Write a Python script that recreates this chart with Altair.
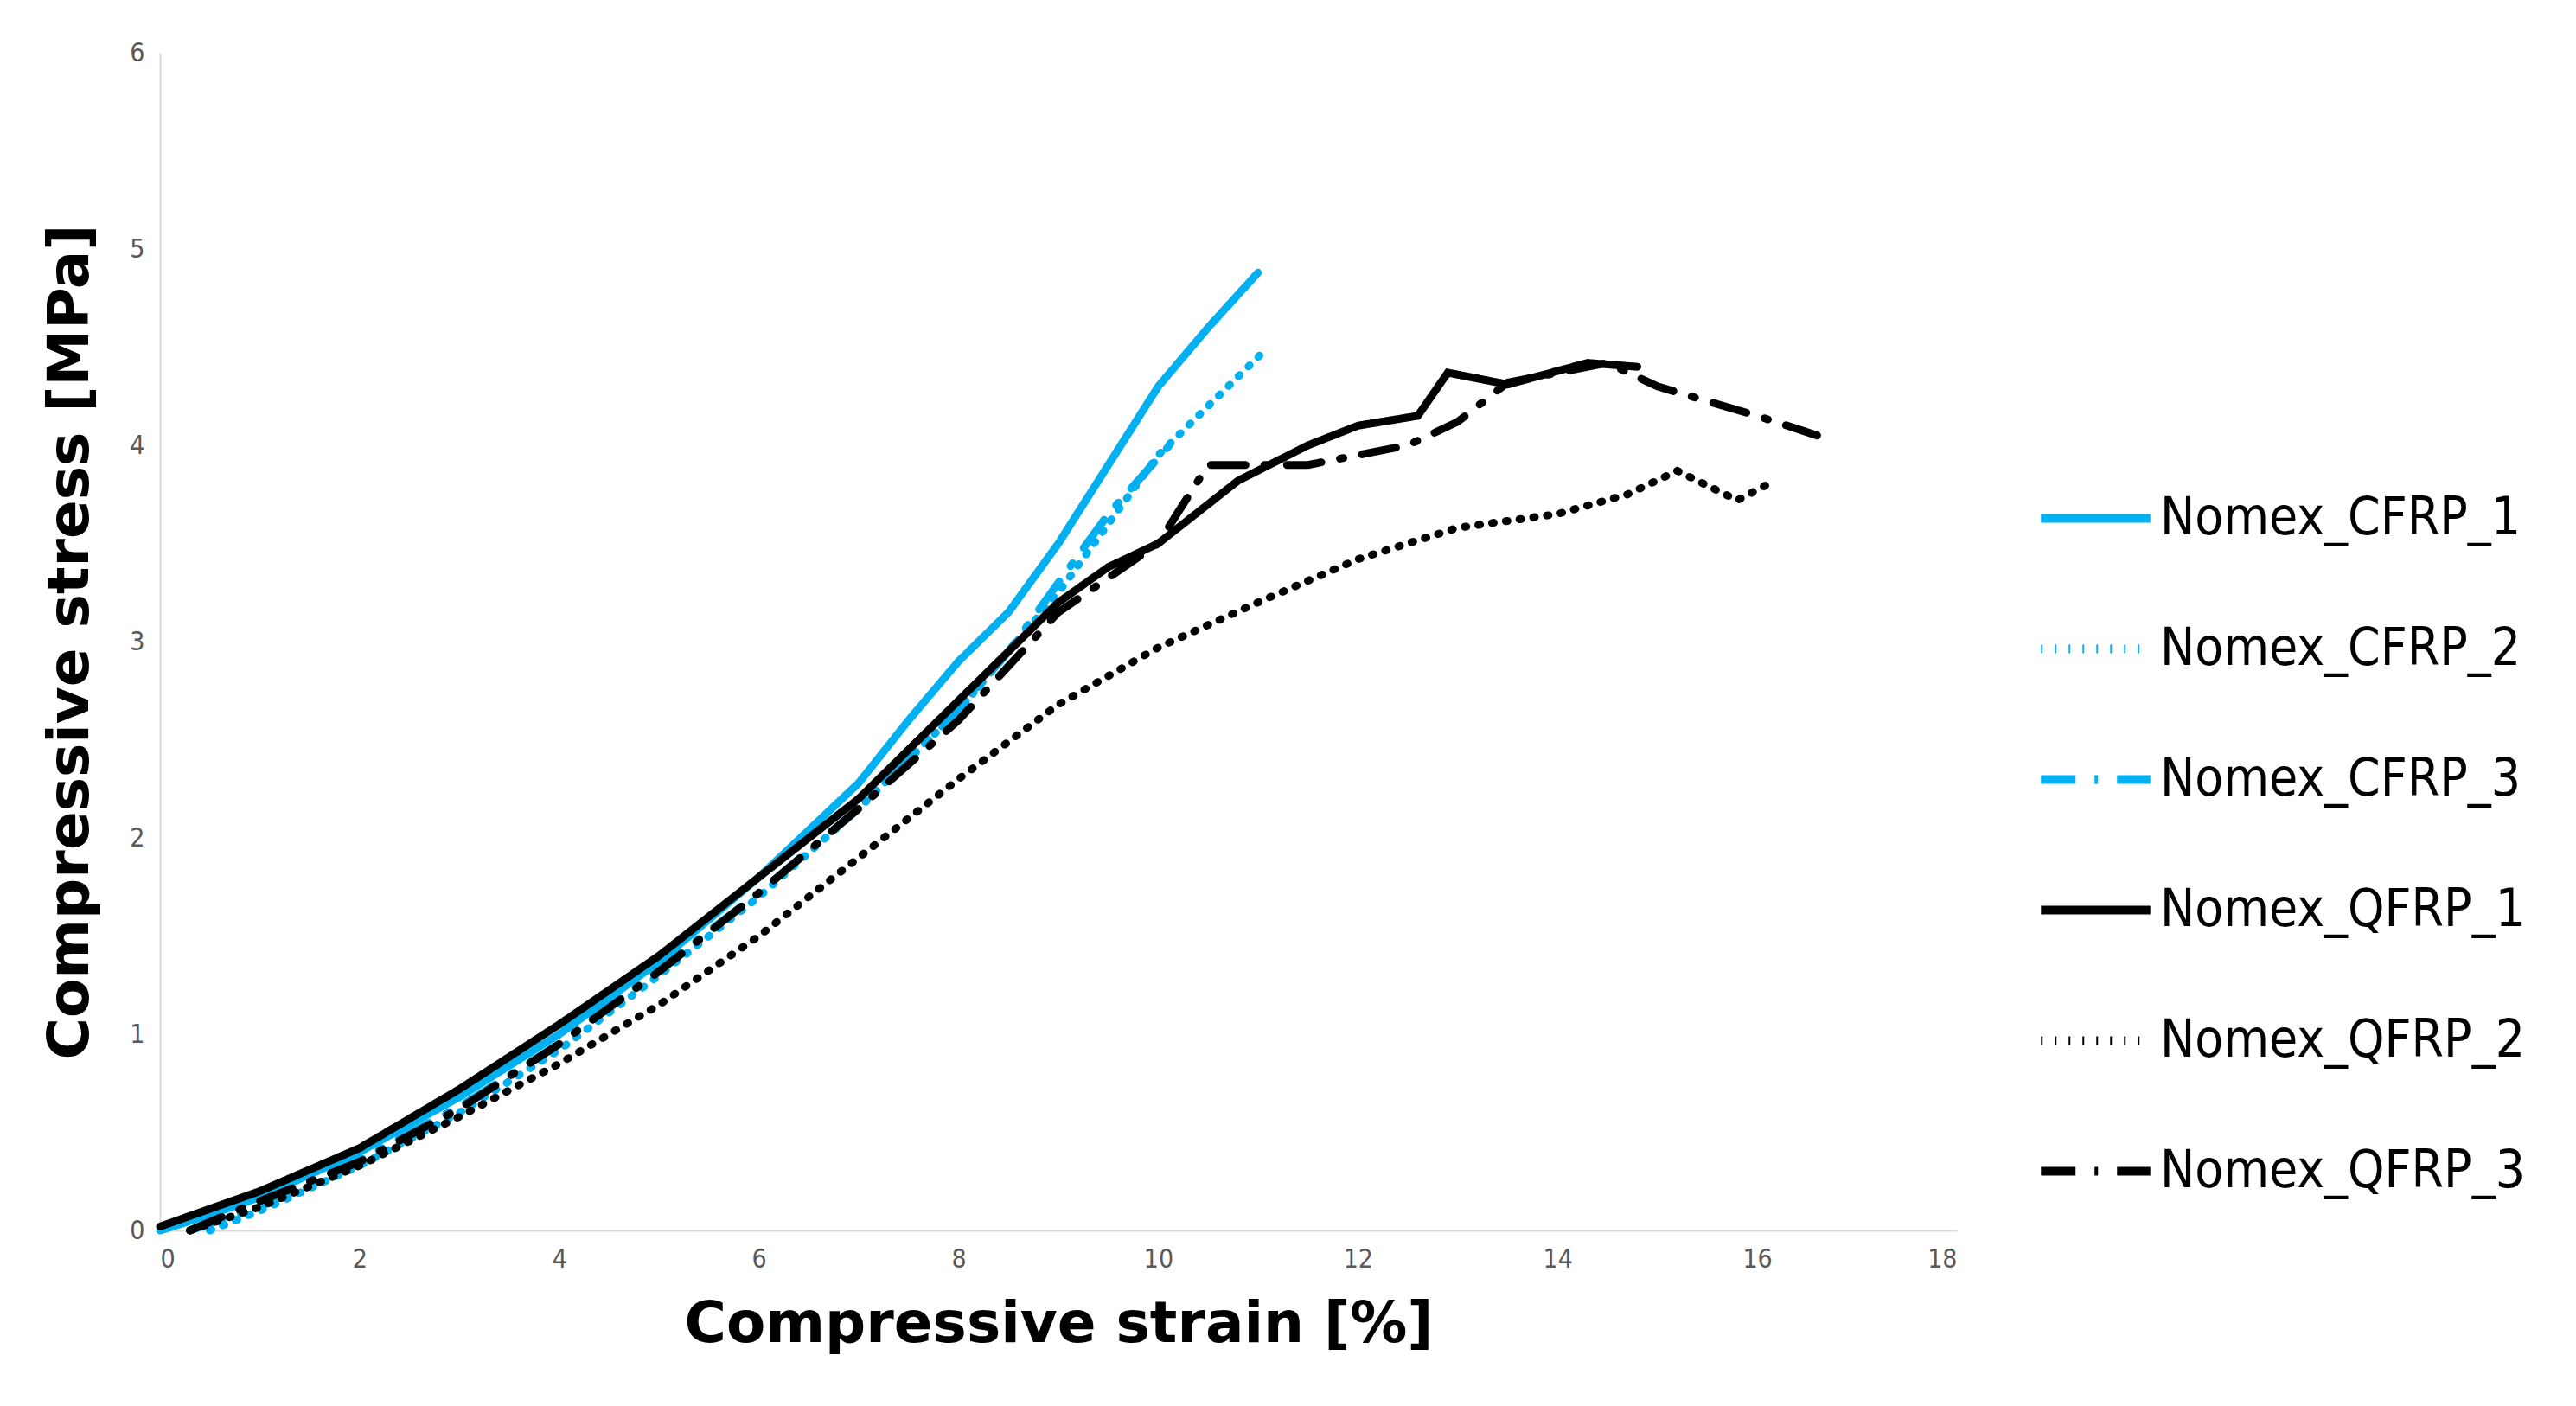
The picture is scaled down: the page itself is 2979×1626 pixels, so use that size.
import altair as alt
import pandas as pd

names = ["Nomex_CFRP_1", "Nomex_CFRP_2", "Nomex_CFRP_3", "Nomex_QFRP_1", "Nomex_QFRP_2", "Nomex_QFRP_3"]
cfrp1_x = [0, 0.5, 1, 2, 3, 4, 5, 6, 7, 7.5, 8, 8.5, 9, 9.5, 10, 10.5, 11]
cfrp1_y = [0, 0.08, 0.17, 0.4, 0.68, 1.0, 1.37, 1.8, 2.28, 2.6, 2.9, 3.15, 3.5, 3.9, 4.3, 4.6, 4.88]
cfrp2_x = [0.5, 1, 2, 3, 4, 5, 6, 7, 8, 9, 10, 10.5, 11.1]
cfrp2_y = [0, 0.1, 0.33, 0.6, 0.92, 1.3, 1.7, 2.15, 2.65, 3.25, 3.95, 4.2, 4.5]
cfrp3_x = [0.3, 1, 2, 3, 4, 5, 6, 7, 8, 8.5, 9, 9.5, 10.2]
cfrp3_y = [0, 0.12, 0.36, 0.63, 0.95, 1.33, 1.72, 2.15, 2.65, 2.95, 3.3, 3.65, 4.05]
qfrp1_x = [0, 1, 2, 3, 4, 5, 6, 7, 7.5, 8, 8.5, 9, 9.5, 10, 10.5, 10.8, 11.5, 12, 12.6, 12.9, 13.5, 14.3, 14.8]
qfrp1_y = [0.02, 0.2, 0.42, 0.72, 1.05, 1.4, 1.8, 2.2, 2.45, 2.7, 2.95, 3.2, 3.38, 3.5, 3.7, 3.82, 4.0, 4.1, 4.15, 4.37, 4.31, 4.42, 4.4]
qfrp2_x = [0.3, 1, 2, 3, 4, 5, 6, 7, 8, 9, 10, 11, 12, 13, 14, 14.7, 15.2, 15.8, 16.1]
qfrp2_y = [0, 0.12, 0.33, 0.58, 0.85, 1.15, 1.5, 1.9, 2.3, 2.68, 2.97, 3.2, 3.42, 3.58, 3.65, 3.75, 3.87, 3.72, 3.8]
qfrp3_x = [0.3, 1, 2, 3, 4, 5, 6, 7, 8, 9, 10, 10.5, 11.5, 12.5, 13, 13.5, 14.5, 15, 16, 16.6]
qfrp3_y = [0, 0.15, 0.35, 0.62, 0.95, 1.32, 1.72, 2.15, 2.6, 3.15, 3.5, 3.9, 3.9, 4.0, 4.12, 4.32, 4.42, 4.3, 4.15, 4.05]

series = [(cfrp1_x, cfrp1_y), (cfrp2_x, cfrp2_y), (cfrp3_x, cfrp3_y),
          (qfrp1_x, qfrp1_y), (qfrp2_x, qfrp2_y), (qfrp3_x, qfrp3_y)]
rows = []
for n, (xs, ys) in zip(names, series):
    for i, (a, b) in enumerate(zip(xs, ys)):
        rows.append({"s": n, "x": a, "y": b, "i": i})
df = pd.DataFrame(rows)

blue = "#00B0F0"
colors = [blue, blue, blue, "black", "black", "black"]
dashes = [[1, 0], [2, 14], [40, 22, 4, 22], [1, 0], [2, 14], [40, 22, 4, 22]]
narrow = "DejaVu Sans Condensed, Liberation Sans, sans-serif"

chart = alt.Chart(df).mark_line(strokeWidth=9, strokeCap="round").encode(
    x=alt.X("x:Q", scale=alt.Scale(domain=[0, 18]),
            axis=alt.Axis(values=list(range(0, 19, 2)), title="Compressive strain [%]", grid=False)),
    y=alt.Y("y:Q", scale=alt.Scale(domain=[0, 6]),
            axis=alt.Axis(values=list(range(0, 7)), title="Compressive stress [MPa]", grid=False)),
    color=alt.Color("s:N", scale=alt.Scale(domain=names, range=colors), title=None),
    strokeDash=alt.StrokeDash("s:N", scale=alt.Scale(domain=names, range=dashes), title=None),
    order="i:Q",
).properties(width=2078, height=1362, padding={"left": 40, "top": 38, "right": 5, "bottom": 5}).configure_axis(
    labelFont=narrow, labelFontSize=30, labelColor="#595959",
    titleFont="DejaVu Sans", titleFontSize=66, titleFontWeight="bold", titleColor="black",
    domainColor="#d9d9d9", domainWidth=2, ticks=False, labelPadding=18,
).configure_axisX(titlePadding=28).configure_axisY(titlePadding=34).configure_legend(
    labelFont=narrow, labelFontSize=60, labelColor="black",
    symbolType="stroke", symbolSize=16000, symbolStrokeWidth=10, rowPadding=52,
    labelOffset=6, orient="none", legendX=2170, legendY=470, labelLimit=800,
).configure_view(stroke=None)

chart.save("out.html", embed_options={"renderer": "svg", "actions": False})
